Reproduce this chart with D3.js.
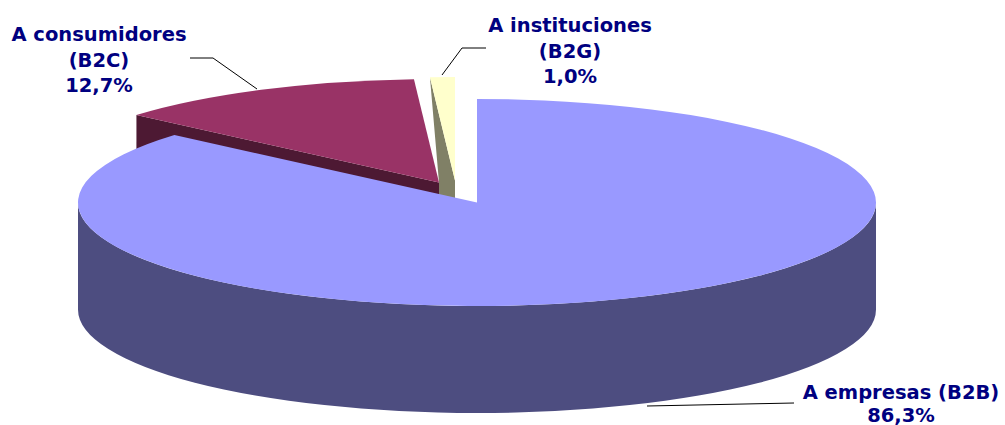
<!DOCTYPE html>
<html>
<head>
<meta charset="utf-8">
<script src="https://cdn.jsdelivr.net/npm/d3@7"></script>
<style>
  html, body { margin: 0; padding: 0; background: #fff; }
  svg { display: block; }
  .label { font-family: "DejaVu Sans", sans-serif; font-weight: bold; font-size: 19.5px; fill: #000080; text-anchor: middle; }
</style>
</head>
<body>
<svg id="viz" width="1005" height="425"></svg>
<script>
const categories = ["A empresas (B2B)", "A consumidores (B2C)", "A instituciones (B2G)"];
const shares = [86.3, 12.7, 1.0];
const topColors = ["#9999ff", "#993366", "#ffffcc"];
const sideColors = ["#4d4d80", "#4d1933", "#808066"];
const labelLines = [
    ["A empresas (B2B)", "86,3%"],
    ["A consumidores", "(B2C)", "12,7%"],
    ["A instituciones", "(B2G)", "1,0%"]
];

const width = 1005, height = 425;
const cx = 477, cy = 202.5, rx = 399, ry = 103.5, depth = 107;
// how far each slice is pulled out of the pie
const explode = [[0, 0], [-38, -20], [-22, -22]];
const labelPos = [[901, 399], [99, 41], [570, 32]];
const lineGap = [22.5, 25.5, 25.5];
const leaders = [
    [[647, 406], [794, 403]],
    [[190, 58], [213, 58], [257, 89]],
    [[486, 48], [462, 48], [442, 75]]
];

const svg = d3.select("#viz");

const slices = d3.pie().sort(null).value(d => d)(shares);
const arc = d3.arc().innerRadius(0).outerRadius(rx);

// point on the flattened rim
const rim = (angle, i) => [
    cx + explode[i][0] + rx * Math.sin(angle),
    cy + explode[i][1] - ry * Math.cos(angle)
];
const apex = i => [cx + explode[i][0], cy + explode[i][1]];
const down = p => [p[0], p[1] + depth];
const line = d3.line();

// cut faces of the two pulled out slices, these go behind the big one
const b2cRim = rim(slices[1].startAngle, 1);
svg.append("path")
    .attr("d", line([b2cRim, apex(1), down(apex(1)), down(b2cRim)]) + "Z")
    .attr("fill", sideColors[1]);

const b2gRim = rim(slices[2].startAngle, 2);
svg.append("path")
    .attr("d", line([b2gRim, apex(2), down(apex(2)), down(apex(1)), apex(1)]) + "Z")
    .attr("fill", sideColors[2]);

// outer wall of the big slice
svg.append("path")
    .attr("d", `M${cx - rx},${cy}A${rx},${ry} 0 0 0 ${cx + rx},${cy}L${cx + rx},${cy + depth}A${rx},${ry} 0 0 1 ${cx - rx},${cy + depth}Z`)
    .attr("fill", sideColors[0]);

// tops
svg.append("g").selectAll("path")
    .data(slices)
    .enter()
    .append("path")
    .attr("transform", (d, i) => `translate(${cx + explode[i][0]},${cy + explode[i][1]}) scale(1,${ry / rx})`)
    .attr("d", arc)
    .attr("fill", (d, i) => topColors[i]);

// leader lines
svg.append("g").selectAll("path")
    .data(leaders)
    .enter()
    .append("path")
    .attr("d", d => line(d))
    .attr("fill", "none")
    .attr("stroke", "#000")
    .attr("stroke-width", 1);

// labels
labelLines.forEach((lines, i) => {
    const text = svg.append("text").attr("class", "label");
    lines.forEach((t, j) => {
        text.append("tspan")
            .attr("x", labelPos[i][0])
            .attr("y", labelPos[i][1] + j * lineGap[i])
            .text(t);
    });
});
</script>
</body>
</html>
